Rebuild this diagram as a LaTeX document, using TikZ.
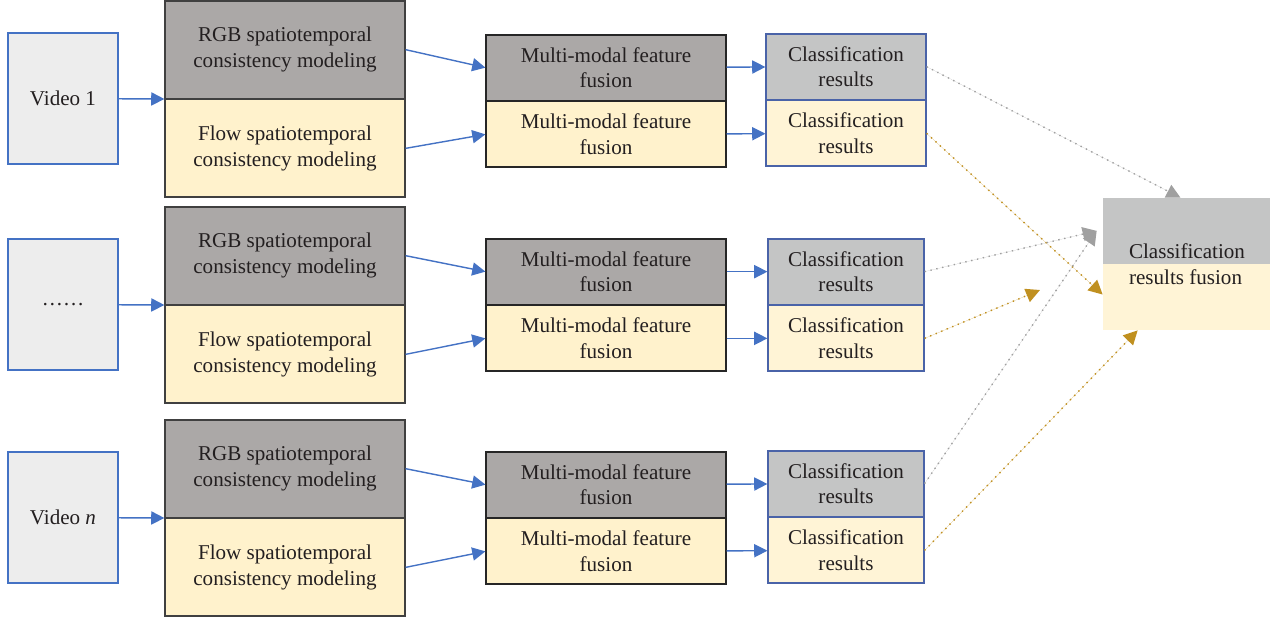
\documentclass[tikz,border=0pt]{standalone}
\usepackage{fontspec}
\setmainfont{Liberation Serif}
\usetikzlibrary{arrows.meta,positioning,calc}

\definecolor{vidfill}{HTML}{EDEDED}
\definecolor{rgbfill}{HTML}{ABA8A7}
\definecolor{flowfill}{HTML}{FFF2CC}
\definecolor{clsgray}{HTML}{C4C5C5}
\definecolor{clsyel}{HTML}{FFF4D6}
\definecolor{linkblue}{HTML}{4472C4}
\definecolor{boxblue}{HTML}{4A63A8}
\definecolor{dotgray}{HTML}{A0A0A0}
\definecolor{dotgold}{HTML}{C09020}
\definecolor{textdark}{HTML}{231F20}

\begin{document}
\begin{tikzpicture}[x=0.02cm, y=-0.02cm,
      every node/.style={font=\fontsize{12}{14.7}\selectfont, text=textdark, align=center, inner sep=0pt},
      vid/.style={draw=linkblue, fill=vidfill, line width=0.7pt, minimum width=2.2cm, minimum height=2.62cm},
      stc/.style={draw=black!75, line width=0.7pt, minimum width=4.8cm, minimum height=1.95cm},
      mmf/.style={draw=black!85, line width=0.7pt, minimum width=4.8cm, minimum height=1.31cm},
      cls/.style={draw=boxblue, line width=0.7pt, minimum width=3.12cm, minimum height=1.31cm},
      arr/.style={-{Triangle[length=7.5pt,width=7.5pt]}, draw=linkblue, fill=linkblue, line width=0.8pt},
      dotg/.style={-{Triangle[length=8pt,width=8pt]}, draw=dotgray, fill=dotgray, dash pattern=on 0.8pt off 2.6pt, line width=0.8pt},
      dotb/.style={-{Triangle[length=8pt,width=8pt]}, draw=dotgold, fill=dotgold, dash pattern=on 0.8pt off 2.6pt, line width=0.8pt}
    ]
    \useasboundingbox (0,0) rectangle (1275,623);

    % row 1
    \node[vid] (vid1) at (63,98.5) {Video 1};
    \node[stc, fill=rgbfill, anchor=south] (rgb1) at (285,99) {RGB spatiotemporal\\consistency modeling};
    \node[stc, fill=flowfill, anchor=north] (flow1) at (285,99) {Flow spatiotemporal\\consistency modeling};
    \node[mmf, fill=rgbfill, anchor=south] (mmr1) at (606,101) {Multi-modal feature\\fusion};
    \node[mmf, fill=flowfill, anchor=north] (mmf1) at (606,101) {Multi-modal feature\\fusion};
    \node[cls, fill=clsgray, anchor=south, minimum width=3.2cm] (clr1) at (846,100) {Classification\\results};
    \node[cls, fill=clsyel, anchor=north, minimum width=3.2cm] (clf1) at (846,100) {Classification\\results};

    % row 2
    \node[vid] (vid2) at (63,304.5) {……};
    \node[stc, fill=rgbfill, anchor=south] (rgb2) at (285,305) {RGB spatiotemporal\\consistency modeling};
    \node[stc, fill=flowfill, anchor=north] (flow2) at (285,305) {Flow spatiotemporal\\consistency modeling};
    \node[mmf, fill=rgbfill, anchor=south] (mmr2) at (606,305) {Multi-modal feature\\fusion};
    \node[mmf, fill=flowfill, anchor=north] (mmf2) at (606,305) {Multi-modal feature\\fusion};
    \node[cls, fill=clsgray, anchor=south] (clr2) at (846,305) {Classification\\results};
    \node[cls, fill=clsyel, anchor=north] (clf2) at (846,305) {Classification\\results};

    % row 3
    \node[vid] (vid3) at (63,517.5) {Video \textit{n}};
    \node[stc, fill=rgbfill, anchor=south] (rgb3) at (285,518) {RGB spatiotemporal\\consistency modeling};
    \node[stc, fill=flowfill, anchor=north] (flow3) at (285,518) {Flow spatiotemporal\\consistency modeling};
    \node[mmf, fill=rgbfill, anchor=south] (mmr3) at (606,518) {Multi-modal feature\\fusion};
    \node[mmf, fill=flowfill, anchor=north] (mmf3) at (606,518) {Multi-modal feature\\fusion};
    \node[cls, fill=clsgray, anchor=south] (clr3) at (846,517) {Classification\\results};
    \node[cls, fill=clsyel, anchor=north] (clf3) at (846,517) {Classification\\results};

    % fusion of the results
    \node[fill=clsyel, minimum width=3.34cm, minimum height=2.64cm] (fusion) at (1186.5,264) {};
    \fill[clsgray] (fusion.north west) rectangle (fusion.east);
    \node[align=left, anchor=west] (fustext) at ($(fusion.west)+(26,0)$) {Classification\\results fusion};

    % solid links
    \draw[arr] (vid1) -- (rgb1.south west); \draw[arr] (rgb1.east) -- (mmr1.west); \draw[arr] (flow1.east) -- (mmf1.west);
    \draw[arr] (mmr1) -- (clr1); \draw[arr] (mmf1) -- (clf1);
    \draw[arr] (vid2) -- (rgb2.south west); \draw[arr] (rgb2.east) -- (mmr2.west); \draw[arr] (flow2.east) -- (mmf2.west);
    \draw[arr] (mmr2) -- (clr2); \draw[arr] (mmf2) -- (clf2);
    \draw[arr] (vid3) -- (rgb3.south west); \draw[arr] (rgb3.east) -- (mmr3.west); \draw[arr] (flow3.east) -- (mmf3.west);
    \draw[arr] (mmr3) -- (clr3); \draw[arr] (mmf3) -- (clf3);

    % dotted links to the fusion
    \coordinate (fustop) at ($(fusion.north)+(-6,0)$);
    \coordinate (fusup) at ($(fusion.north west)!0.25!(fusion.south west)+(-6,0)$);
    \coordinate (fuslow) at ($(fusion.north west)!0.73!(fusion.south west)$);
    \coordinate (fusbot) at ($(fusion.south west)+(35,0)$);
    \coordinate (freeend) at (1040,290);
    \draw[dotg] (clr1.east) -- (fustop);
    \draw[dotb] (clf1.east) -- (fuslow);
    \draw[dotg] (clr2.east) -- (fusup);
    \draw[dotb] (clf2.east) -- (freeend);
    \draw[dotg] (clr3.east) -- (fusup);
    \draw[dotb] (clf3.east) -- (fusbot);
  \end{tikzpicture}
\end{document}
